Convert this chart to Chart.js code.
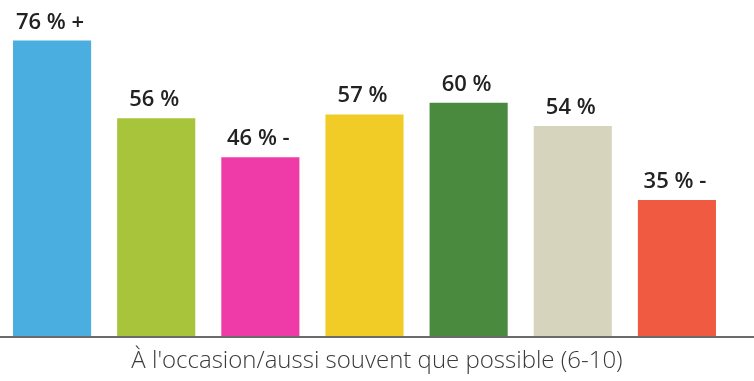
<!DOCTYPE html>
<html>
<head>
<meta charset="utf-8">
<script src="https://cdn.jsdelivr.net/npm/chart.js@4/dist/chart.umd.min.js"></script>
<style>
  html, body { margin: 0; padding: 0; background: #fff; }
  #wrap { width: 754px; height: 381px; position: relative; }
</style>
</head>
<body>
<div id="wrap"><canvas id="myChart"></canvas></div>
<script>
const categories = ['A', 'B', 'C', 'D', 'E', 'F', 'G'];
const values = [76, 56, 46, 57, 60, 54, 35];
const marks = ['+', '', '-', '', '', '', '-'];
const colors = ['#4aaee0', '#a7c43b', '#ef3ba8', '#f1cc26', '#4a8a3f', '#d6d4bd', '#ef5a40'];
const caption = "À l'occasion/aussi souvent que possible (6-10)";

// value labels above bars, full-width baseline and caption
const extras = {
  id: 'extras',
  afterDatasetsDraw(chart) {
    const c = chart.ctx;
    const meta = chart.getDatasetMeta(0);
    c.save();
    c.fillStyle = '#222';
    c.font = '600 22px "Open Sans", "Liberation Sans", sans-serif';
    c.textAlign = 'center';
    c.textBaseline = 'alphabetic';
    meta.data.forEach((bar, i) => {
      let txt = values[i] + ' %';
      if (marks[i]) txt += ' ' + marks[i];
      c.fillText(txt, bar.x - 2, bar.y - 12);
    });
    const y = chart.chartArea.bottom + 1;
    c.strokeStyle = '#6b6b6b';
    c.lineWidth = 2;
    c.beginPath();
    c.moveTo(0, y);
    c.lineTo(chart.width, y);
    c.stroke();
    c.fillStyle = '#3a3a3a';
    c.font = '300 24px "Open Sans", "Liberation Sans", sans-serif';
    c.textBaseline = 'middle';
    c.fillText(caption, chart.width / 2, 361);
    c.restore();
  }
};

new Chart(document.getElementById('myChart'), {
  type: 'bar',
  data: {
    labels: categories,
    datasets: [{
      data: values,
      backgroundColor: colors,
      borderWidth: 0,
      barPercentage: 1,
      categoryPercentage: 0.75
    }]
  },
  options: {
    responsive: true,
    maintainAspectRatio: false,
    animation: false,
    layout: { padding: { left: 0, right: 25, top: 25, bottom: 45 } },
    plugins: { legend: { display: false }, tooltip: { enabled: false } },
    scales: {
      x: { display: false },
      y: { display: false, min: 0, max: 80 }
    }
  },
  plugins: [extras]
});
</script>
</body>
</html>
